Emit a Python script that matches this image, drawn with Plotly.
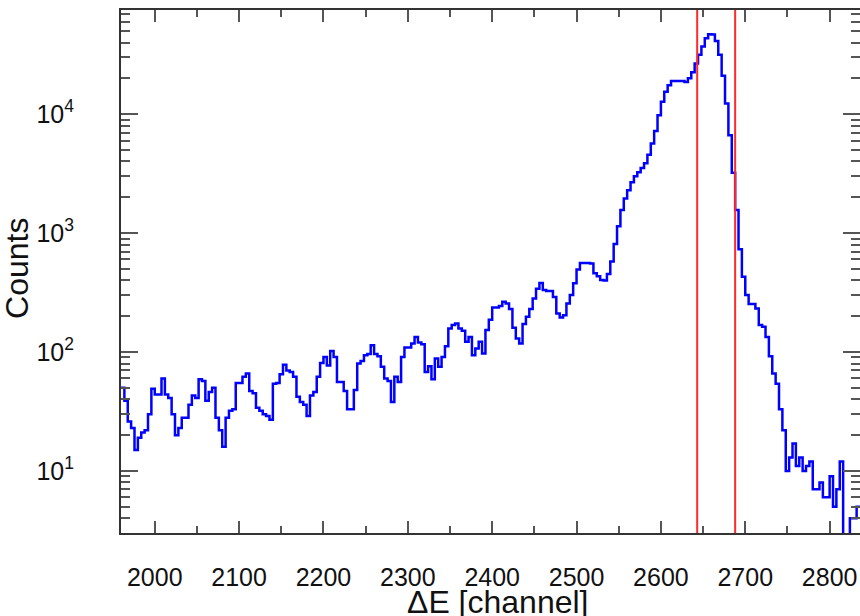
import plotly.graph_objects as go

# ---- data ----
BIN_START = 1960      # first bin lower edge [channel]
BIN_WIDTH = 4         # channels per bin
counts = [
    50, 39, 26, 23, 15, 19, 21, 22, 30, 49,
    44, 44, 60, 44, 41, 30, 20, 23, 28, 28,
    36, 43, 41, 59, 57, 39, 46, 50, 28, 22,
    16, 28, 32, 33, 55, 55, 62, 66, 47, 45,
    34, 32, 30, 29, 27, 54, 55, 65, 78, 70,
    68, 62, 42, 38, 36, 29, 43, 46, 62, 81,
    91, 77, 102, 91, 56, 56, 47, 33, 33, 48,
    80, 84, 94, 96, 114, 96, 92, 75, 60, 57,
    38, 62, 56, 91, 109, 109, 118, 134, 120, 116,
    68, 76, 59, 88, 75, 91, 112, 158, 169, 174,
    158, 151, 122, 134, 94, 107, 122, 97, 153, 187,
    237, 237, 244, 264, 256, 230, 160, 130, 118, 172,
    198, 230, 282, 341, 380, 332, 326, 326, 290, 211,
    195, 204, 256, 301, 378, 494, 560, 560, 560, 556,
    460, 434, 403, 400, 453, 578, 808, 1140, 1560, 1950,
    2290, 2680, 3010, 3250, 3530, 3870, 4550, 5680, 7230, 9800,
    12700, 15400, 17500, 19000, 19000, 19000, 19000, 18600, 20000, 22500,
    26700, 31600, 37000, 43500, 47000, 46700, 41300, 31600, 21000, 12300,
    6640, 3210, 1560, 730, 430, 301, 253, 253, 232, 169,
    163, 134, 92, 66, 54, 33, 22, 10, 13, 17,
    11, 13, 10, 11, 12, 7, 7, 8, 6, 6,
    9, 5, 7, 12, 2, 2, 4, 4, 5,
]
cut_lines = [2643, 2688]          # red selection window [channel]
x_ticks = [2000, 2100, 2200, 2300, 2400, 2500, 2600, 2700, 2800]
y_ticks = [10, 100, 1000, 10000]
y_ticktext = ["10<sup>1</sup>", "10<sup>2</sup>", "10<sup>3</sup>", "10<sup>4</sup>"]
y_minor = [m * 10 ** k for k in range(0, 5) for m in range(2, 10)]

# bin edges for step drawing
edges = [BIN_START + BIN_WIDTH * i for i in range(len(counts) + 1)]
ys = counts + [counts[-1]]

TICK_FONT = dict(family="Liberation Sans, sans-serif", size=25, color="#111")
TITLE_FONT = dict(family="Liberation Sans, sans-serif", size=32, color="#111")

fig = go.Figure()
fig.add_trace(go.Scatter(
    x=edges, y=ys, mode="lines", line_shape="hv",
    line=dict(color="#0000ff", width=2.5), showlegend=False, hoverinfo="skip",
))
for c in cut_lines:
    fig.add_shape(type="line", xref="x", yref="paper", x0=c, x1=c, y0=0, y1=1,
                  line=dict(color="#ff2a2a", width=2))

axis_common = dict(
    showgrid=False, zeroline=False, showline=True, linecolor="#333", linewidth=2,
    ticks="inside", tickcolor="#555", tickwidth=2, mirror="ticks",
    tickfont=TICK_FONT, automargin=False,
)
fig.update_xaxes(
    **axis_common, range=[BIN_START, 2836], tickmode="array", tickvals=x_ticks,
    ticklen=12, ticklabelstandoff=21,
    minor=dict(dtick=50, tick0=2000, ticks="inside", ticklen=7, tickcolor="#555", tickwidth=2),
)
fig.update_yaxes(
    **axis_common, type="log", range=[0.478, 4.876], tickmode="array",
    tickvals=y_ticks, ticktext=y_ticktext, ticklen=17, ticklabelstandoff=40,
    minor=dict(tickmode="array", tickvals=y_minor, ticks="inside", ticklen=9,
               tickcolor="#555", tickwidth=2),
)

fig.add_annotation(text="Counts", xref="paper", yref="paper", x=-0.1407, y=0.505,
                   textangle=-90, showarrow=False, font=TITLE_FONT,
                   xanchor="center", yanchor="middle")
fig.add_annotation(text="ΔE [channel]", xref="paper", yref="paper", x=0.51, y=-0.131,
                   showarrow=False, font=TITLE_FONT, xanchor="center", yanchor="middle")

fig.update_layout(
    width=860, height=616, margin=dict(l=121, r=0, t=10, b=83),
    paper_bgcolor="white", plot_bgcolor="white",
)
fig.write_html(
    "out.html",
    config={"displayModeBar": False},
    post_script="document.body.style.margin='0';document.body.style.overflow='hidden';",
)
